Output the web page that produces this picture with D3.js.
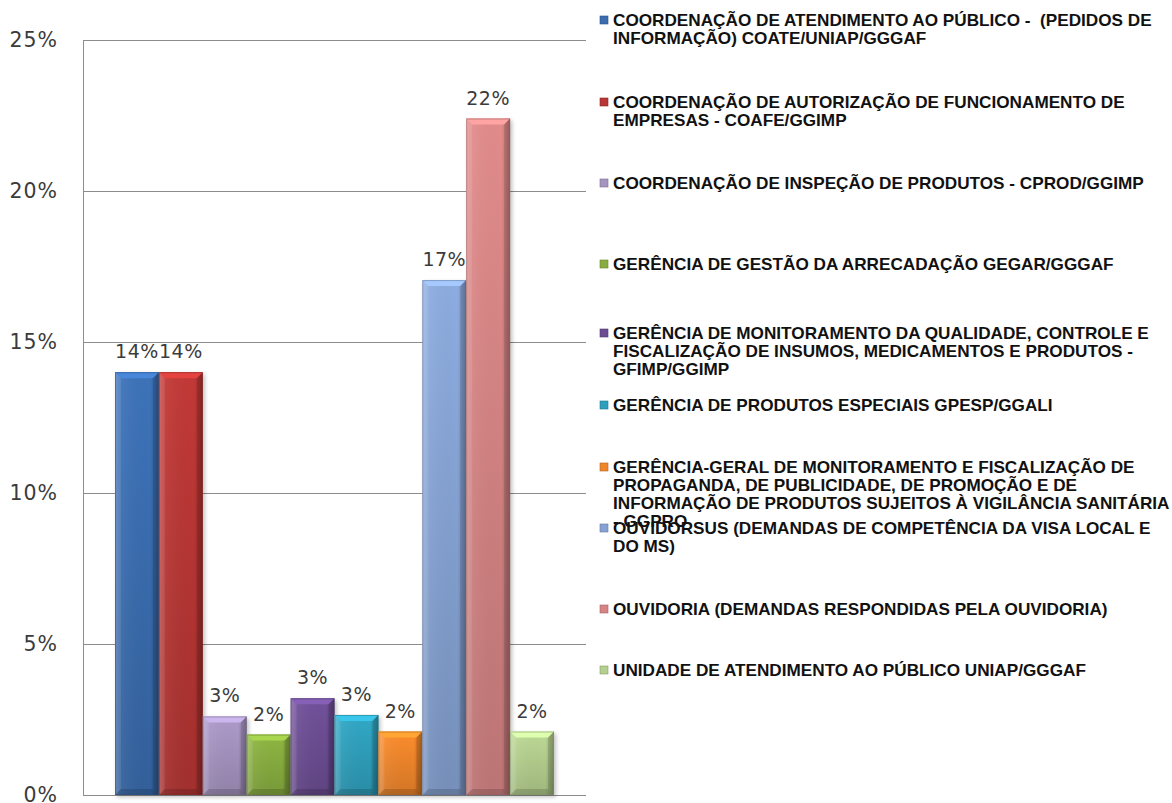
<!DOCTYPE html>
<html>
<head>
<meta charset="utf-8">
<script src="https://cdn.jsdelivr.net/npm/d3@7"></script>
<style>
  body { margin: 0; background: #fff; }
  svg { display: block; }
</style>
</head>
<body>
<div id="chart"></div>
<script>
// Series (one bar each), in legend order
const seriesNames = [
  ['COORDENAÇÃO DE ATENDIMENTO AO PÚBLICO -  (PEDIDOS DE', 'INFORMAÇÃO) COATE/UNIAP/GGGAF'],
  ['COORDENAÇÃO DE AUTORIZAÇÃO DE FUNCIONAMENTO DE', 'EMPRESAS - COAFE/GGIMP'],
  ['COORDENAÇÃO DE INSPEÇÃO DE PRODUTOS - CPROD/GGIMP'],
  ['GERÊNCIA DE GESTÃO DA ARRECADAÇÃO GEGAR/GGGAF'],
  ['GERÊNCIA DE MONITORAMENTO DA QUALIDADE, CONTROLE E', 'FISCALIZAÇÃO DE INSUMOS, MEDICAMENTOS E PRODUTOS -', 'GFIMP/GGIMP'],
  ['GERÊNCIA DE PRODUTOS ESPECIAIS GPESP/GGALI'],
  ['GERÊNCIA-GERAL DE MONITORAMENTO E FISCALIZAÇÃO DE', 'PROPAGANDA, DE PUBLICIDADE, DE PROMOÇÃO E DE', 'INFORMAÇÃO DE PRODUTOS SUJEITOS À VIGILÂNCIA SANITÁRIA', '- GGPRO'],
  ['OUVIDORSUS (DEMANDAS DE COMPETÊNCIA DA VISA LOCAL E', 'DO MS)'],
  ['OUVIDORIA (DEMANDAS RESPONDIDAS PELA OUVIDORIA)'],
  ['UNIDADE DE ATENDIMENTO AO PÚBLICO UNIAP/GGGAF']
];
const seriesValues = [14.0, 14.0, 2.6, 2.0, 3.2, 2.65, 2.1, 17.05, 22.4, 2.1];
const valueLabels = ['14%', '14%', '3%', '2%', '3%', '3%', '2%', '17%', '22%', '2%'];
const seriesColors = ['#3a6db0', '#b83634', '#a593c0', '#88ad3f', '#6c4d93', '#2ea0bd', '#f0862a', '#86a3d4', '#d68484', '#b4cf8e'];
const yTicks = [0, 5, 10, 15, 20, 25];

const width = 1172, height = 803;
const plot = { top: 40, right: 586, bottom: 795, left: 83 };  // plot box edges
const legendX = 600;
const legendTextX = 613;
const legendTextW = 539;   // width of the first legend line
const legendTops = [20, 102, 183, 264, 333, 405, 467, 528, 609, 670];
const lineH = 18;

const svg = d3.select('#chart').append('svg')
  .attr('width', width)
  .attr('height', height);

const defs = svg.append('defs');

const y = d3.scaleLinear().domain([0, 25]).range([plot.bottom, plot.top]);
const x = d3.scaleBand()
  .domain(d3.range(seriesValues.length))
  .range([115, 554])
  .paddingInner(0);

// Gridlines
svg.append('g')
  .attr('class', 'grid')
  .attr('transform', `translate(${plot.left},0)`)
  .call(d3.axisLeft(y).tickValues(yTicks).tickSize(-(plot.right - plot.left)).tickFormat(''))
  .call(g => g.select('.domain').remove())
  .call(g => g.selectAll('line').attr('stroke', '#8c8c8c').attr('stroke-width', 1));

// Y axis labels
svg.append('g')
  .attr('class', 'y-axis')
  .attr('transform', `translate(${plot.left},0)`)
  .call(d3.axisLeft(y).tickValues(yTicks).tickSize(0).tickPadding(25).tickFormat(d => d + '%'))
  .call(g => g.select('.domain').remove())
  .call(g => g.selectAll('text')
    .style('font-family', '"DejaVu Sans", sans-serif')
    .style('font-size', '20.5px')
    .style('letter-spacing', '1px')
    .style('fill', '#3b3b3b'));

// Axis lines
svg.append('line')
  .attr('x1', plot.left + 0.5).attr('x2', plot.left + 0.5)
  .attr('y1', plot.top).attr('y2', plot.bottom)
  .attr('stroke', '#8c8c8c');
svg.append('line')
  .attr('x1', plot.left).attr('x2', plot.right)
  .attr('y1', plot.bottom + 0.5).attr('y2', plot.bottom + 0.5)
  .attr('stroke', '#8c8c8c');

// Gradients per bar colour
seriesColors.forEach((c, i) => {
  const base = d3.color(c);
  const g = defs.append('linearGradient')
    .attr('id', 'grad-' + i)
    .attr('x1', 0).attr('y1', 0).attr('x2', 0).attr('y2', 1);
  g.append('stop').attr('offset', '0%').attr('stop-color', base.brighter(0.15));
  g.append('stop').attr('offset', '100%').attr('stop-color', base.darker(0.35));
});
const side = defs.append('linearGradient')
  .attr('id', 'side-shade')
  .attr('x1', 0).attr('y1', 0).attr('x2', 1).attr('y2', 0);
side.append('stop').attr('offset', '0%').attr('stop-color', '#fff').attr('stop-opacity', 0.18);
side.append('stop').attr('offset', '15%').attr('stop-color', '#fff').attr('stop-opacity', 0.05);
side.append('stop').attr('offset', '80%').attr('stop-color', '#000').attr('stop-opacity', 0.0);
side.append('stop').attr('offset', '100%').attr('stop-color', '#000').attr('stop-opacity', 0.25);

const shadow = defs.append('filter').attr('id', 'shadow')
  .attr('x', '-20%').attr('y', '-5%').attr('width', '140%').attr('height', '115%');
shadow.append('feGaussianBlur').attr('stdDeviation', 2);

const bw = x.bandwidth();
const bevel = 6;

const bars = svg.append('g').attr('class', 'bars')
  .selectAll('g')
  .data(seriesValues)
  .join('g')
  .attr('transform', (d, i) => `translate(${x(i)},0)`);

// soft shadow
bars.append('rect')
  .attr('x', 2).attr('y', d => y(d) + 2)
  .attr('width', bw).attr('height', d => y(0) - y(d))
  .attr('fill', '#000').attr('opacity', 0.25)
  .attr('filter', 'url(#shadow)');

bars.append('rect')
  .attr('x', 0).attr('y', d => y(d))
  .attr('width', bw).attr('height', d => y(0) - y(d))
  .attr('fill', (d, i) => `url(#grad-${i})`);

bars.append('rect')
  .attr('x', 0).attr('y', d => y(d))
  .attr('width', bw).attr('height', d => y(0) - y(d))
  .attr('fill', 'url(#side-shade)');

// top bevel
bars.append('path')
  .attr('d', d => {
    const t = y(d);
    return `M0,${t}L${bw},${t}L${bw - bevel},${t + bevel}L${bevel},${t + bevel}Z`;
  })
  .attr('fill', (d, i) => d3.color(seriesColors[i]).brighter(0.6));

// left / right / bottom bevels
bars.append('path')
  .attr('d', d => `M0,${y(d)}L${bevel},${y(d) + bevel}L${bevel},${y(0) - bevel}L0,${y(0)}Z`)
  .attr('fill', '#fff').attr('opacity', 0.08);
bars.append('path')
  .attr('d', d => `M${bw},${y(d)}L${bw - bevel},${y(d) + bevel}L${bw - bevel},${y(0) - bevel}L${bw},${y(0)}Z`)
  .attr('fill', '#000').attr('opacity', 0.12);
bars.append('path')
  .attr('d', d => `M0,${y(0)}L${bevel},${y(0) - bevel}L${bw - bevel},${y(0) - bevel}L${bw},${y(0)}Z`)
  .attr('fill', '#000').attr('opacity', 0.15);

bars.append('rect')
  .attr('x', 0.5).attr('y', d => y(d) + 0.5)
  .attr('width', bw - 1).attr('height', d => y(0) - y(d) - 1)
  .attr('fill', 'none')
  .attr('stroke', (d, i) => d3.color(seriesColors[i]).darker(1))
  .attr('stroke-opacity', 0.5);

// value labels
bars.append('text')
  .attr('x', bw / 2)
  .attr('y', d => y(d) - 14)
  .attr('text-anchor', 'middle')
  .style('font-family', '"DejaVu Sans", sans-serif')
  .style('font-size', '19px')
  .style('letter-spacing', '0.5px')
  .style('fill', '#3b3b3b')
  .text((d, i) => valueLabels[i]);

// Legend
const legend = svg.append('g').attr('class', 'legend')
  .selectAll('g')
  .data(seriesNames)
  .join('g')
  .attr('transform', (d, i) => `translate(${legendX},${legendTops[i]})`);

legend.append('rect')
  .attr('x', 0).attr('y', -4)
  .attr('width', 8).attr('height', 8)
  .attr('fill', (d, i) => seriesColors[i])
  .attr('stroke', (d, i) => d3.color(seriesColors[i]).darker(0.8))
  .attr('stroke-width', 0.6);

const legendText = legend.append('text')
  .attr('transform', `translate(${legendTextX - legendX},0)`)
  .attr('xml:space', 'preserve')
  .style('white-space', 'pre')
  .style('font-family', '"Liberation Sans", Arial, sans-serif')
  .style('font-weight', 'bold')
  .style('font-size', '16.5px')
  .style('fill', '#111');

legendText.selectAll('tspan')
  .data(d => d)
  .join('tspan')
  .attr('x', 0)
  .attr('y', (d, j) => j * lineH + 6)
  .text(d => d);

// condense the legend font horizontally so the first line spans the same width as the reference
const firstLine = legendText.select('tspan').node();
const measured = firstLine.getComputedTextLength();
const sx = legendTextW / measured;
legendText.attr('transform', `translate(${legendTextX - legendX},0) scale(${sx},1)`);
</script>
</body>
</html>
